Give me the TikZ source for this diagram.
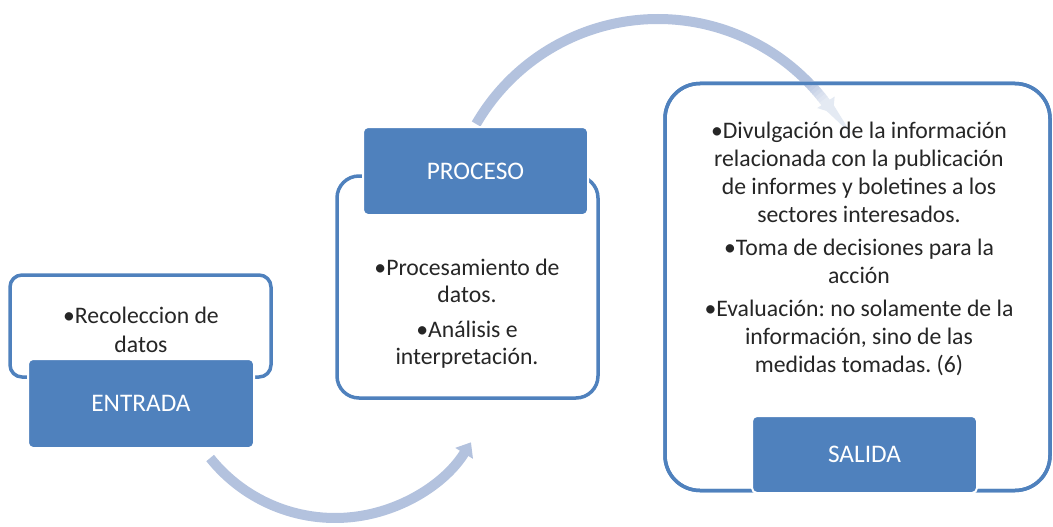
\documentclass[tikz,border=0pt]{standalone}
\usepackage{fontspec}
\setmainfont{Carlito}
\frenchspacing
\usetikzlibrary{arrows.meta,calc}
\definecolor{accent}{HTML}{4F81BD}
\definecolor{arrowc}{HTML}{B3C2DE}
\definecolor{txt}{HTML}{262626}
\begin{document}
\begin{tikzpicture}[x=1pt,y=-1pt,
  frame/.style={draw=accent, line width=3.5pt, fill=white, inner sep=0pt, outer sep=0pt},
  tag/.style={fill=accent, draw=white, line width=2pt, rounded corners=5pt,
    text=white, font=\fontsize{25.3}{30}\selectfont, inner sep=0pt},
  body/.style={text=txt, align=center, inner sep=0pt},
  flow/.style={draw=arrowc, line width=10pt},
  flowtip/.style={-{Triangle[width=20pt,length=13pt]}}]
\useasboundingbox (0,0) rectangle (1053,527);

% frames
\node[frame, rounded corners=12pt, minimum width=261pt, minimum height=102pt] (entradaBox) at (140.5,326) {};
\node[frame, rounded corners=22pt, minimum width=261pt, minimum height=222pt] (procesoBox) at (467.5,287) {};
\node[frame, rounded corners=35pt, minimum width=385pt, minimum height=407pt] (salidaBox) at (857.5,287) {};

% flow arrows
\coordinate (lowStart) at ($(335,358)+(141.3:160)$);
\coordinate (upStart) at ($(658,229)+(210:210)$);
\draw[flow, flowtip] (lowStart) arc[start angle=141.3, end angle=31.8, radius=160];
\draw[flow] (upStart) arc[start angle=210, end angle=316.2, radius=210];
\foreach \a/\c in {316/90,317/80,318/70,319/60,320/50,321/42}{
  \draw[draw=arrowc!\c!white, line width=10pt] ($(658,229)+(\a:210)$) arc[start angle=\a, end angle=\a+1.2, radius=210];
}
\draw[draw=arrowc!35!white, line width=10pt, flowtip] ($(658,229)+(322:210)$) arc[start angle=322, end angle=326.5, radius=210];

% frame border over the arrow
\draw[accent, line width=3.5pt, rounded corners=35pt] (salidaBox.north west) rectangle (salidaBox.south east);

% body texts
\node[body, font=\fontsize{23.7}{29}\selectfont] (entradaText) at (141,330) {•Recoleccion de\\datos};
\node[body, font=\fontsize{23.7}{27}\selectfont] (procesoText) at (467,314) {•Procesamiento de\\datos.\\[8pt]•Análisis e\\interpretación.};
\node[body, font=\fontsize{23.7}{28}\selectfont] (salidaText) at (859,249) {•Divulgación de la información\\relacionada con la publicación\\de informes y boletines a los\\sectores interesados.\\[5pt]•Toma de decisiones para la\\acción\\[5pt]•Evaluación: no solamente de la\\información, sino de las\\medidas tomadas. (6)};

% tags
\node[tag, minimum width=226pt, minimum height=89pt] (entrada) at (141,403.5) {ENTRADA};
\node[tag, minimum width=225pt, minimum height=88pt] (proceso) at (475.5,171) {PROCESO};
\node[tag, minimum width=225pt, minimum height=77pt] (salida) at (864.5,454.5) {SALIDA};
\end{tikzpicture}
\end{document}
